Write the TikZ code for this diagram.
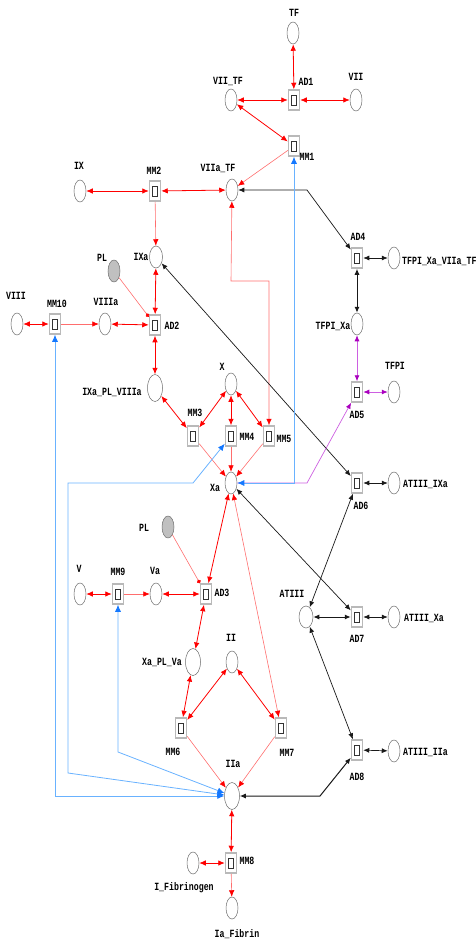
\documentclass[tikz,border=0pt]{standalone}
\usepackage{fontspec}
\newfontfamily\pnfont[FakeStretch=0.75]{Liberation Mono}
\usepackage{tikz}
\usetikzlibrary{arrows.meta, shapes.geometric}
\definecolor{arcR}{RGB}{255,0,0}
\definecolor{arcRl}{RGB}{255,110,110}
\definecolor{arcK}{RGB}{25,25,25}
\definecolor{arcB}{RGB}{20,120,255}
\definecolor{arcBl}{RGB}{105,178,255}
\definecolor{arcM}{RGB}{170,0,190}
\definecolor{arcMl}{RGB}{205,95,225}
\definecolor{plGray}{RGB}{192,192,192}
\tikzset{
  place/.style={ellipse, draw=gray!85!black, fill=white, line width=0.5pt,
    minimum width=12pt, minimum height=22pt, inner sep=0pt},
  cplx/.style={place, minimum width=15pt, minimum height=27pt},
  pool/.style={place, fill=plGray},
  trans/.style={rectangle, draw=gray!55, line width=1.5pt, fill=white,
    minimum width=11pt, minimum height=20pt, inner sep=0pt,
    path picture={\draw[gray!40!black, line width=0.5pt]
      ([xshift=-2.6pt,yshift=-4.8pt]path picture bounding box.center) rectangle ++(5.2pt,9.6pt);}},
  lbl/.style={font=\pnfont\bfseries\fontsize{11}{11}\selectfont, inner sep=0pt},
  tipR/.tip={Latex[length=6.5pt,width=5.5pt,color=arcR]},
  tipK/.tip={Latex[length=6pt,width=5pt,color=arcK]},
  tipB/.tip={Latex[length=7pt,width=6pt,color=arcB]},
  tipM/.tip={Latex[length=6pt,width=5pt,color=arcM]},
  biR/.style={draw=arcR, line width=0.8pt, tipR-tipR},
  biRl/.style={draw=arcRl, line width=0.6pt, tipR-tipR},
  toR/.style={draw=arcRl, line width=0.6pt, -tipR},
  dotR/.style={draw=arcRl, line width=0.6pt, -{Circle[length=4pt,color=arcR]}},
  biK/.style={draw=arcK, line width=0.7pt, tipK-tipK},
  biB/.style={draw=arcBl, line width=0.8pt, tipB-tipB},
  biM/.style={draw=arcMl, line width=0.8pt, tipM-tipM},
  toM/.style={draw=arcMl, line width=0.7pt, -tipM}
}
\begin{document}
\begin{tikzpicture}[x=1pt, y=-1pt]
\useasboundingbox (0,0) rectangle (476,945);
% ====== places ======
\node[place] (TF) at (293,33) {};
\node[place] (VIITF) at (231,100) {};
\node[place] (VII) at (356,100) {};
\node[place] (VIIaTF) at (232,190) {};
\node[place] (IX) at (80,191) {};
\node[place, minimum width=13pt] (IXa) at (156,257) {};
\node[pool] (PLa) at (114,271) {};
\node[place] (VIII) at (17,324) {};
\node[place] (VIIIa) at (105,324) {};
\node[cplx] (IXaPLVIIIa) at (155,388) {};
\node[place] (X) at (231,384) {};
\node[place] (Xa) at (231,483) {};
\node[place] (TFPIXaVIIaTF) at (394,258) {};
\node[place] (TFPIXa) at (357,324) {};
\node[place] (TFPI) at (394,392) {};
\node[place] (ATIIIIXa) at (394,483) {};
\node[place, minimum width=14pt] (ATIII) at (306,617) {};
\node[place] (ATIIIXa) at (394,617) {};
\node[place] (ATIIIIIa) at (394,751) {};
\node[pool] (PLb) at (168,527) {};
\node[place] (V) at (80,594) {};
\node[place] (Va) at (156,594) {};
\node[cplx] (XaPLVa) at (193,662) {};
\node[place] (II) at (232,662) {};
\node[cplx] (IIa) at (232,796) {};
\node[place] (IFibrinogen) at (193,863) {};
\node[place] (IaFibrin) at (232,908) {};
% ====== transitions ======
\node[trans] (AD1) at (294,100) {};
\node[trans] (MM1) at (294,146) {};
\node[trans] (MM2) at (155,191) {};
\node[trans] (AD2) at (155,325) {};
\node[trans] (MM10) at (55,324) {};
\node[trans] (MM3) at (193,436) {};
\node[trans] (MM4) at (231,436) {};
\node[trans] (MM5) at (269,436) {};
\node[trans] (AD4) at (357,258) {};
\node[trans] (AD5) at (357,392) {};
\node[trans] (AD6) at (357,483) {};
\node[trans] (AD7) at (357,617) {};
\node[trans] (AD8) at (357,750) {};
\node[trans] (AD3) at (206,594) {};
\node[trans] (MM9) at (118,594) {};
\node[trans] (MM6) at (181,728) {};
\node[trans] (MM7) at (281,728) {};
\node[trans] (MM8) at (231,863) {};
% ====== labels ======
\node[lbl] (lTF) at (294,13) {TF};
\node[lbl] (lAD1) at (306,82) {AD1};
\node[lbl] (lVIITF) at (228,81) {VII\_TF};
\node[lbl] (lVII) at (356,77) {VII};
\node[lbl] (lMM1) at (307,157) {MM1};
\node[lbl] (lVIIaTF) at (218,168) {VIIa\_TF};
\node[lbl] (lMM2) at (154,171) {MM2};
\node[lbl] (lIX) at (79,166) {IX};
\node[lbl] (lIXa) at (141,257) {IXa};
\node[lbl] (lPLa) at (102,258) {PL};
\node[lbl] (lAD2) at (172,326) {AD2};
\node[lbl] (lVIIIa) at (106,302) {VIIIa};
\node[lbl] (lMM10) at (57,304) {MM10};
\node[lbl] (lVIII) at (16,296) {VIII};
\node[lbl] (lIXaPLVIIIa) at (112,392) {IXa\_PL\_VIIIa};
\node[lbl] (lX) at (222,367) {X};
\node[lbl] (lMM3) at (195,413) {MM3};
\node[lbl] (lMM4) at (247,437) {MM4};
\node[lbl] (lMM5) at (284,439) {MM5};
\node[lbl] (lXa) at (215,488) {Xa};
\node[lbl] (lAD4) at (358,237) {AD4};
\node[lbl, anchor=west] (lTFPIXaVIIaTF) at (402,261) {TFPI\_Xa\_VIIa\_TF};
\node[lbl] (lTFPIXa) at (333,326) {TFPI\_Xa};
\node[lbl] (lTFPI) at (395,366) {TFPI};
\node[lbl] (lAD5) at (357,415) {AD5};
\node[lbl] (lAD6) at (361,506) {AD6};
\node[lbl, anchor=west] (lATIIIIXa) at (403,484) {ATIII\_IXa};
\node[lbl] (lATIII) at (292,594) {ATIII};
\node[lbl] (lAD7) at (357,639) {AD7};
\node[lbl, anchor=west] (lATIIIXa) at (404,618) {ATIII\_Xa};
\node[lbl] (lAD8) at (357,777) {AD8};
\node[lbl, anchor=west] (lATIIIIIa) at (403,752) {ATIII\_IIa};
\node[lbl] (lPLb) at (144,528) {PL};
\node[lbl] (lV) at (79,569) {V};
\node[lbl] (lMM9) at (118,572) {MM9};
\node[lbl] (lVa) at (155,571) {Va};
\node[lbl] (lAD3) at (222,593) {AD3};
\node[lbl] (lXaPLVa) at (162,662) {Xa\_PL\_Va};
\node[lbl] (lII) at (231,638) {II};
\node[lbl] (lMM6) at (173,752) {MM6};
\node[lbl] (lMM7) at (287,753) {MM7};
\node[lbl] (lIIa) at (233,764) {IIa};
\node[lbl] (lMM8) at (247,861) {MM8};
\node[lbl] (lIFibrinogen) at (184,888) {I\_Fibrinogen};
\node[lbl] (lIaFibrin) at (237,934) {Ia\_Fibrin};
% ====== red arcs: extrinsic / intrinsic ======
\draw[biR] (TF) -- (AD1);
\draw[biR] (VIITF) -- (AD1);
\draw[biR] (AD1) -- (VII);
\draw[biR] (VIITF) -- (MM1);
\draw[toR] (MM1) -- (VIIaTF);
\draw[biR] (IX) -- (MM2);
\draw[biR] (MM2) -- (VIIaTF);
\draw[toR] (MM2) -- (IXa);
\draw[biR] (IXa) -- (AD2);
\draw[dotR] (PLa) -- (AD2);
\draw[biR] (VIII) -- (MM10);
\draw[toR] (MM10) -- (VIIIa);
\draw[biR] (VIIIa) -- (AD2);
\draw[biR] (AD2) -- (IXaPLVIIIa);
\draw[biR] (IXaPLVIIIa) -- (MM3);
\draw[biR] (X) -- (MM3);
\draw[biR] (X) -- (MM4);
\draw[biR] (X) -- (MM5);
\draw[biRl] (VIIaTF) -- (231,281) -- (269,281) -- (MM5);
\draw[toR] (MM3) -- (Xa);
\draw[toR] (MM4) -- (Xa);
\draw[toR] (MM5) -- (Xa);
% ====== red arcs: common pathway ======
\draw[biR] (Xa) -- (AD3);
\draw[biRl] (Xa) -- (MM7);
\draw[biR] (V) -- (MM9);
\draw[toR] (MM9) -- (Va);
\draw[biR] (Va) -- (AD3);
\draw[dotR] (PLb) -- (AD3);
\draw[biR] (AD3) -- (XaPLVa);
\draw[biR] (XaPLVa) -- (MM6);
\draw[biR] (II) -- (MM6);
\draw[biR] (II) -- (MM7);
\draw[toR] (MM6) -- (IIa);
\draw[toR] (MM7) -- (IIa);
\draw[biR] (IIa) -- (MM8);
\draw[biR] (IFibrinogen) -- (MM8);
\draw[toR] (MM8) -- (IaFibrin);
% ====== black arcs: inhibitors ======
\draw[biK] (VIIaTF) -- (307,190) -- (AD4);
\draw[biK] (AD4) -- (TFPIXaVIIaTF);
\draw[biK, line width=1pt] (AD4) -- (TFPIXa);
\draw[biK] (IXa) -- (AD6);
\draw[biK] (AD6) -- (ATIIIIXa);
\draw[biK] (AD6) -- (ATIII);
\draw[biK] (Xa) -- (AD7);
\draw[biK, line width=1pt] (ATIII) -- (AD7);
\draw[biK] (AD7) -- (ATIIIXa);
\draw[biK] (ATIII) -- (AD8);
\draw[biK] (AD8) -- (ATIIIIIa);
\draw[biK, line width=1pt] (IIa) -- (320,796) -- (AD8);
% ====== magenta arcs: TFPI ======
\draw[biM] (TFPIXa) -- (AD5);
\draw[biM] (AD5) -- (TFPI);
\draw[toM] (Xa) -- (307,483) -- (AD5);
% ====== blue arcs: feedback ======
\draw[biB] (Xa) -- (294,483) -- (MM1);
\draw[biB] (IIa) -- (55,796) -- (MM10);
\draw[biB] (IIa) -- (68,773) -- (68,483) -- (193,483) -- (MM4);
\draw[biB] (IIa) -- (118,752) -- (MM9);
\end{tikzpicture}
\end{document}
